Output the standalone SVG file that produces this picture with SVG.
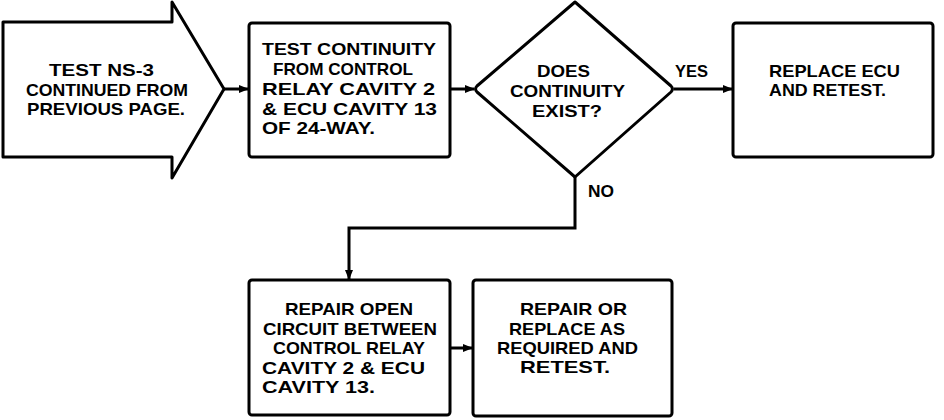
<svg xmlns="http://www.w3.org/2000/svg" width="944" height="420" viewBox="0 0 944 420">
<style>
.s{fill:#fff;stroke:#000;stroke-width:3;stroke-linejoin:round}
.c{fill:none;stroke:#000;stroke-width:3}
text{font-family:"Liberation Sans",Arial,sans-serif;font-weight:bold;font-size:17px;fill:#000}
</style>
<defs>
<marker id="ah" markerWidth="10" markerHeight="8" refX="9" refY="4" orient="auto" markerUnits="userSpaceOnUse">
<path d="M0,0 L10,4 L0,8 Z" fill="#000"/>
</marker>
</defs>
<rect width="944" height="420" fill="#fff"/>
<g id="start">
<path class="s" d="M3,22 L172,22 L172,2 L224,89 L172,178 L172,157 L3,157 Z"/>
<text x="49" y="76" textLength="105" lengthAdjust="spacingAndGlyphs">TEST NS-3</text>
<text x="26" y="96" textLength="162" lengthAdjust="spacingAndGlyphs">CONTINUED FROM</text>
<text x="27" y="115" textLength="158" lengthAdjust="spacingAndGlyphs">PREVIOUS PAGE.</text>
</g>
<g id="test">
<rect class="s" x="249" y="23" width="201" height="134" rx="3"/>
<text x="262" y="55" textLength="174" lengthAdjust="spacingAndGlyphs">TEST CONTINUITY</text>
<text x="273" y="75" textLength="140" lengthAdjust="spacingAndGlyphs">FROM CONTROL</text>
<text x="262" y="95" textLength="173" lengthAdjust="spacingAndGlyphs">RELAY CAVITY 2</text>
<text x="262" y="115" textLength="175" lengthAdjust="spacingAndGlyphs">&amp; ECU CAVITY 13</text>
<text x="262" y="134" textLength="113" lengthAdjust="spacingAndGlyphs">OF 24-WAY.</text>
</g>
<g id="decision">
<path class="s" d="M575,2 L671,86 Q674,89 671,92 L575,177 L477,92 Q474,89 477,86 Z"/>
<text x="537" y="77" textLength="53" lengthAdjust="spacingAndGlyphs">DOES</text>
<text x="510" y="97" textLength="115" lengthAdjust="spacingAndGlyphs">CONTINUITY</text>
<text x="532" y="117" textLength="70" lengthAdjust="spacingAndGlyphs">EXIST?</text>
</g>
<g id="replace">
<rect class="s" x="733" y="23" width="200" height="134" rx="3"/>
<text x="769" y="77" textLength="131" lengthAdjust="spacingAndGlyphs">REPLACE ECU</text>
<text x="769" y="96" textLength="117" lengthAdjust="spacingAndGlyphs">AND RETEST.</text>
</g>
<g id="repair-open">
<rect class="s" x="249" y="280" width="201" height="135" rx="3"/>
<text x="285" y="315" textLength="128" lengthAdjust="spacingAndGlyphs">REPAIR OPEN</text>
<text x="263" y="335" textLength="174" lengthAdjust="spacingAndGlyphs">CIRCUIT BETWEEN</text>
<text x="273" y="354" textLength="152" lengthAdjust="spacingAndGlyphs">CONTROL RELAY</text>
<text x="262" y="374" textLength="163" lengthAdjust="spacingAndGlyphs">CAVITY 2 &amp; ECU</text>
<text x="262" y="393" textLength="113" lengthAdjust="spacingAndGlyphs">CAVITY 13.</text>
</g>
<g id="repair-replace">
<rect class="s" x="473" y="280" width="199" height="136" rx="3"/>
<text x="520" y="315" textLength="107" lengthAdjust="spacingAndGlyphs">REPAIR OR</text>
<text x="509" y="335" textLength="116" lengthAdjust="spacingAndGlyphs">REPLACE AS</text>
<text x="497" y="354" textLength="141" lengthAdjust="spacingAndGlyphs">REQUIRED AND</text>
<text x="520" y="373" textLength="90" lengthAdjust="spacingAndGlyphs">RETEST.</text>
</g>
<g id="connectors">
<line class="c" x1="224" y1="89" x2="248" y2="89" marker-end="url(#ah)"/>
<line class="c" x1="450" y1="89" x2="474" y2="89" marker-end="url(#ah)"/>
<line class="c" x1="674" y1="89" x2="732" y2="89" marker-end="url(#ah)"/>
<polyline class="c" points="575,177 575,228 349,228 349,279" marker-end="url(#ah)"/>
<line class="c" x1="450" y1="348" x2="472" y2="348" marker-end="url(#ah)"/>
<text x="675" y="77" textLength="33" lengthAdjust="spacingAndGlyphs">YES</text>
<text x="588" y="197" textLength="26" lengthAdjust="spacingAndGlyphs">NO</text>
</g>
</svg>
